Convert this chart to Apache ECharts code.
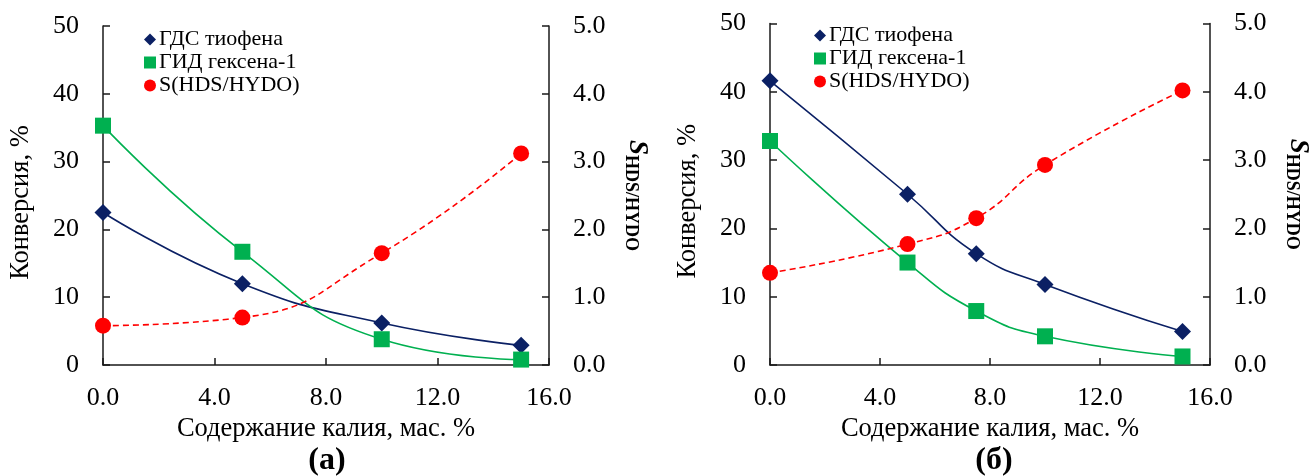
<!DOCTYPE html>
<html>
<head>
<meta charset="utf-8">
<script src="https://cdn.jsdelivr.net/npm/echarts@6/dist/echarts.min.js"></script>
<style>
html,body{margin:0;padding:0;background:#fff;}
#chart{width:1315px;height:476px;}
</style>
</head>
<body>
<div id="chart"></div>
<script>
// ---- data ----
const seriesNames = ['ГДС тиофена', 'ГИД гексена-1', 'S(HDS/HYDO)'];
const xA = [0, 5, 10, 15];
const gdsA = [22.5, 12.0, 6.2, 2.9];
const gidA = [35.3, 16.7, 3.8, 0.8];
const sA = [0.58, 0.70, 1.65, 3.12];
const xB = [0, 5, 7.5, 10, 15];
const gdsB = [41.6, 25.0, 16.3, 11.8, 4.9];
const gidB = [32.8, 15.0, 7.9, 4.2, 1.25];
const sB = [1.35, 1.77, 2.15, 2.93, 4.02];
const panelLabels = ['(а)', '(б)'];
const xAxisTitle = 'Содержание калия, мас. %';
const yAxisTitle = 'Конверсия, %';

const FONT = '"Liberation Serif", "Times New Roman", serif';
const NAVY = '#0b2064', GREEN = '#00b050', RED = '#ff0000';
const AXC = '#1a1a1a';

function pairs(xs, ys) { return xs.map((x, i) => [x, ys[i]]); }

const grids = [
  { left: 103, top: 26, width: 446, height: 339 },
  { left: 770, top: 23.5, width: 447, height: 341.5 }
];

function xAxisFor(gi) {
  return {
    type: 'value', gridIndex: gi, min: 0, max: 16, interval: 4,
    axisLine: { show: true, onZero: false, lineStyle: { color: AXC, width: 1.5 } },
    axisTick: { show: true, inside: true, length: 7, lineStyle: { color: AXC, width: 1.5 } },
    axisLabel: { color: '#000', fontFamily: FONT, fontSize: 26, margin: 20, formatter: v => v.toFixed(1) },
    splitLine: { show: false },
    name: xAxisTitle, nameLocation: 'middle', nameGap: 50,
    nameTextStyle: { color: '#000', fontFamily: FONT, fontSize: 26.5 }
  };
}
function yLeftFor(gi) {
  return {
    type: 'value', gridIndex: gi, min: 0, max: 50, interval: 10, position: 'left',
    axisLine: { show: true, lineStyle: { color: AXC, width: 1.5 } },
    axisTick: { show: true, inside: true, length: 7, lineStyle: { color: AXC, width: 1.5 } },
    axisLabel: { color: '#000', fontFamily: FONT, fontSize: 26, margin: 24 },
    splitLine: { show: false },
    name: yAxisTitle, nameLocation: 'middle', nameGap: 68, nameRotate: 90,
    nameTextStyle: { color: '#000', fontFamily: FONT, fontSize: 26.5, padding: [0, 14, 0, 0] }
  };
}
function yRightFor(gi) {
  return {
    type: 'value', gridIndex: gi, min: 0, max: 5, interval: 1, position: 'right',
    axisLine: { show: true, lineStyle: { color: AXC, width: 1.5 } },
    axisTick: { show: true, inside: true, length: 7, lineStyle: { color: AXC, width: 1.5 } },
    axisLabel: { color: '#000', fontFamily: FONT, fontSize: 26, margin: 24, formatter: v => v.toFixed(1) },
    splitLine: { show: false },
    name: '{s|S}{sub|HDS/HYDO}', nameLocation: 'middle', nameGap: 73, nameRotate: -90,
    nameTextStyle: {
      color: '#000', fontFamily: FONT,
      rich: {
        s: { fontFamily: FONT, fontSize: 27, fontWeight: 'bold', fontStyle: 'italic', color: '#000', verticalAlign: 'top', lineHeight: 28 },
        sub: { fontFamily: FONT, fontSize: 18, fontWeight: 'bold', color: '#000', verticalAlign: 'bottom', lineHeight: 18, padding: [13, 0, 0, 0] }
      }
    }
  };
}

function seriesFor(gi, xs, gds, gid, s) {
  return [
    {
      name: seriesNames[0], type: 'line', xAxisIndex: gi, yAxisIndex: gi * 2,
      data: pairs(xs, gds), smooth: true, symbol: 'diamond', symbolSize: 17,
      itemStyle: { color: NAVY }, lineStyle: { color: NAVY, width: 1.6 }, z: 3
    },
    {
      name: seriesNames[1], type: 'line', xAxisIndex: gi, yAxisIndex: gi * 2,
      data: pairs(xs, gid), smooth: true, symbol: 'rect', symbolSize: 16,
      itemStyle: { color: GREEN }, lineStyle: { color: GREEN, width: 1.6 }, z: 3
    },
    {
      name: seriesNames[2], type: 'line', xAxisIndex: gi, yAxisIndex: gi * 2 + 1,
      data: pairs(xs, s), smooth: true, symbol: 'circle', symbolSize: 16,
      itemStyle: { color: RED }, lineStyle: { color: RED, width: 1.6, type: [6, 4] }, z: 3
    }
  ];
}

const legendData = [
  { name: seriesNames[0], icon: 'diamond' },
  { name: seriesNames[1], icon: 'rect' },
  { name: seriesNames[2], icon: 'circle' }
];
function legendAt(left, top) {
  return {
    data: legendData, orient: 'vertical', left: left, top: top,
    itemWidth: 12, itemHeight: 12, itemGap: 0, selectedMode: false,
    textStyle: { color: '#000', fontFamily: FONT, fontSize: 22, lineHeight: 23, padding: [0, 0, 0, -2] }
  };
}

const option = {
  animation: false,
  backgroundColor: '#fff',
  grid: grids,
  xAxis: [xAxisFor(0), xAxisFor(1)],
  yAxis: [yLeftFor(0), yRightFor(0), yLeftFor(1), yRightFor(1)],
  legend: [legendAt(139, 23), legendAt(809, 19)],
  series: [].concat(seriesFor(0, xA, gdsA, gidA, sA), seriesFor(1, xB, gdsB, gidB, sB)),
  graphic: [
    { type: 'text', x: 327, y: 461, style: { text: panelLabels[0], fontFamily: FONT, fontSize: 32, fontWeight: 'bold', fill: '#000', align: 'center', verticalAlign: 'middle' } },
    { type: 'text', x: 994, y: 461, style: { text: panelLabels[1], fontFamily: FONT, fontSize: 32, fontWeight: 'bold', fill: '#000', align: 'center', verticalAlign: 'middle' } }
  ]
};

const chart = echarts.init(document.getElementById('chart'), null, { renderer: 'canvas' });
chart.setOption(option);
</script>
</body>
</html>
